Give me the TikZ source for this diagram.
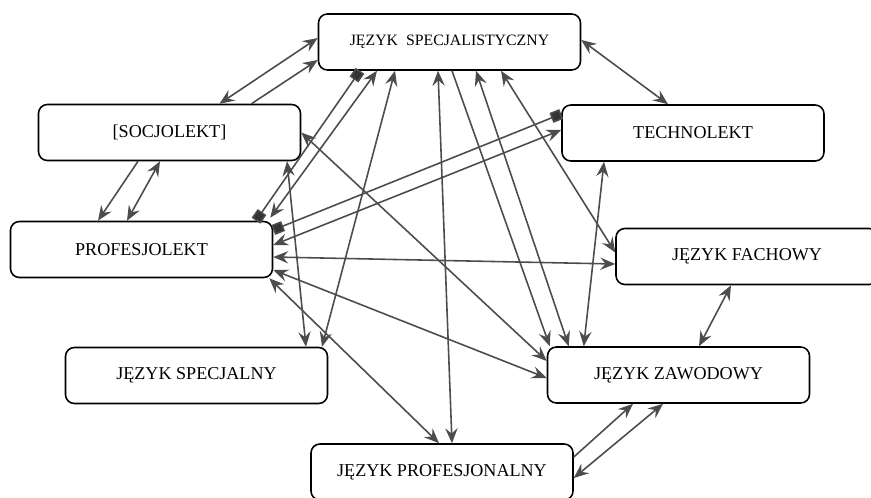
\documentclass[tikz,border=0pt]{standalone}
\usepackage{fontspec}
\setmainfont{Liberation Serif}
\usepackage{tikz}
\usetikzlibrary{arrows.meta,calc}

\begin{document}
\begin{tikzpicture}[
  x=0.02cm, y=-0.02cm, >={Stealth[length=8.5pt, width=7pt, inset=3pt]},
  box/.style={draw, line width=0.9pt, rounded corners=5pt, minimum width=5.24cm, minimum height=1.12cm,
              inner sep=0pt, align=center, font=\fontsize{10.3}{12}\selectfont},
  link/.style={draw=black!70, line width=0.9pt},
  arr/.style={link, ->},
  dbl/.style={link, <->},
  sqr/.style={link, {Square[length=6pt, width=6pt, fill=black!80]}-{Square[length=6pt, width=6pt, fill=black!80]}}
]
  \useasboundingbox (0,0) rectangle (871,497);
  \node[box, font=\fontsize{9}{11}\selectfont] (js) at (449.5,42) {JĘZYK\enspace SPECJALISTYCZNY};
  \node[box] (soc)   at (169.5,132.5) {[SOCJOLEKT]};
  \node[box] (tech)  at (693,133)     {TECHNOLEKT};
  \node[box] (prof)  at (141.5,249.5) {PROFESJOLEKT};
  \node[box] (fach)  at (747,256.5)   {JĘZYK FACHOWY};
  \node[box] (spec)  at (196.5,375.5) {JĘZYK SPECJALNY};
  \node[box] (zaw)   at (678.5,375)   {JĘZYK ZAWODOWY};
  \node[box] (profn) at (442,472)     {JĘZYK PROFESJONALNY};
  \draw[dbl] ($(soc.north)+(50,0)$)   -- ($(js.west)+(0,-4)$);
  \draw[arr] ($(soc.north)+(82,0)$)   -- ($(js.west)+(0,18)$);
  \draw[arr] ($(soc.south)+(-31.5,0)$) -- ($(prof.north)+(-43.5,0)$);
  \draw[dbl] ($(prof.north)+(-14.5,0)$) -- ($(soc.south)+(-9.5,0)$);
  \draw[sqr] ($(prof.north)+(114.5,0)$) -- ($(js.south)+(-89.5,0)$);
  \draw[dbl] ($(prof.north east)+(-3,-3)$) -- ($(js.south)+(-72.5,0)$);
  \draw[sqr] ($(prof.east)+(0,-19.5)$) -- ($(tech.west)+(0,-19)$);
  \draw[dbl] ($(prof.east)+(0,-4.5)$)  -- ($(tech.west)+(0,-3)$);
  \draw[dbl] ($(prof.east)+(0,7.5)$)   -- ($(fach.west)+(0,7.5)$);
  \draw[dbl] ($(prof.east)+(0,20.5)$)  -- ($(zaw.west)+(0,3)$);
  \draw[dbl] ($(prof.south east)+(-4,0)$) -- ($(profn.north)+(-3,0)$);
  \draw[dbl] (soc.east) -- ($(zaw.west)+(0,-14)$);
  \draw[dbl] ($(soc.south)+(117.5,0)$) -- ($(spec.north)+(109.5,0)$);
  \draw[dbl] ($(js.south)+(-54.5,0)$)  -- ($(spec.north)+(125.5,0)$);
  \draw[dbl] ($(js.south)+(-11.5,0)$)  -- ($(profn.north)+(10,0)$);
  \draw[arr] ($(js.south)+(2.5,0)$)    -- ($(zaw.north west)+(3,0)$);
  \draw[dbl] ($(js.south)+(26.5,0)$)   -- ($(zaw.north west)+(22,0)$);
  \draw[dbl] ($(js.south)+(51.5,0)$)   -- ($(fach.west)+(0,-4)$);
  \draw[dbl] ($(js.east)+(0,-2)$)      -- ($(tech.north)+(-25,0)$);
  \draw[dbl] ($(tech.south)+(-89,0)$)  -- ($(zaw.north west)+(37,0)$);
  \draw[dbl] ($(fach.south)+(-16,0)$)  -- ($(zaw.north)+(20.5,0)$);
  \draw[arr] ($(profn.east)+(0,-15)$)  -- ($(zaw.south)+(-45.5,0)$);
  \draw[dbl] ($(zaw.south)+(-15.5,0)$) -- ($(profn.east)+(0,6)$);
\end{tikzpicture}
\end{document}
